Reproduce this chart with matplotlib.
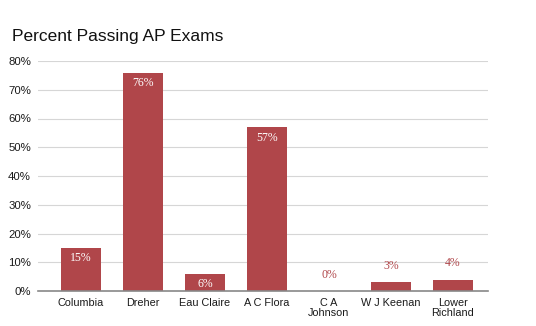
import matplotlib
matplotlib.use('Agg')
import matplotlib.pyplot as plt
from matplotlib.ticker import FuncFormatter

schools = ['Columbia', 'Dreher', 'Eau Claire', 'A C Flora', 'C A\nJohnson',
           'W J Keenan', 'Lower\nRichland']
passing = [15, 76, 6, 57, 0, 3, 4]

bar_color = '#b0464a'

fig = plt.figure(figsize=(5.36, 3.26), dpi=100)
ax = fig.add_axes([38 / 536, 1 - 291 / 326, 450 / 536, 230 / 326])

x = list(range(len(schools)))
ax.bar(x, passing, width=0.65, color=bar_color, zorder=3)

for xi, v in zip(x, passing):
    if v >= 6:
        ax.text(xi, v - 1.6, f'{v}%', ha='center', va='top', color='white',
                fontsize=8.5, family='Liberation Serif', zorder=4)
    else:
        ax.text(xi, v + 3.6, f'{v}%', ha='center', va='bottom', color=bar_color,
                fontsize=8.5, family='Liberation Serif', zorder=4)

ax.set_xlim(-0.694, 6.565)
ax.set_ylim(0, 80)
ax.set_yticks(range(0, 81, 10))
ax.yaxis.set_major_formatter(FuncFormatter(lambda v, p: f'{int(v)}%'))
ax.set_xticks(x)
ax.set_xticklabels(schools, linespacing=0.95)
ax.tick_params(axis='both', length=0, colors='#1a1a1a')
ax.tick_params(axis='y', pad=5, labelsize=8.2)
ax.tick_params(axis='x', pad=5, labelsize=7.8)
for lab in ax.get_xticklabels() + ax.get_yticklabels():
    lab.set_family('Liberation Sans')

ax.grid(axis='y', color='#d6d6d6', linewidth=0.8, zorder=0)
for s in ['top', 'right', 'left']:
    ax.spines[s].set_visible(False)
ax.spines['bottom'].set_color('#888888')
ax.spines['bottom'].set_linewidth(1.2)
ax.spines['bottom'].set_zorder(5)

fig.text(12 / 536, 1 - 37 / 326, 'Percent Passing AP Exams', fontsize=12.5,
         family='Liberation Sans', va='center', ha='left', color='#111111')

plt.savefig('out.png', dpi=100)
